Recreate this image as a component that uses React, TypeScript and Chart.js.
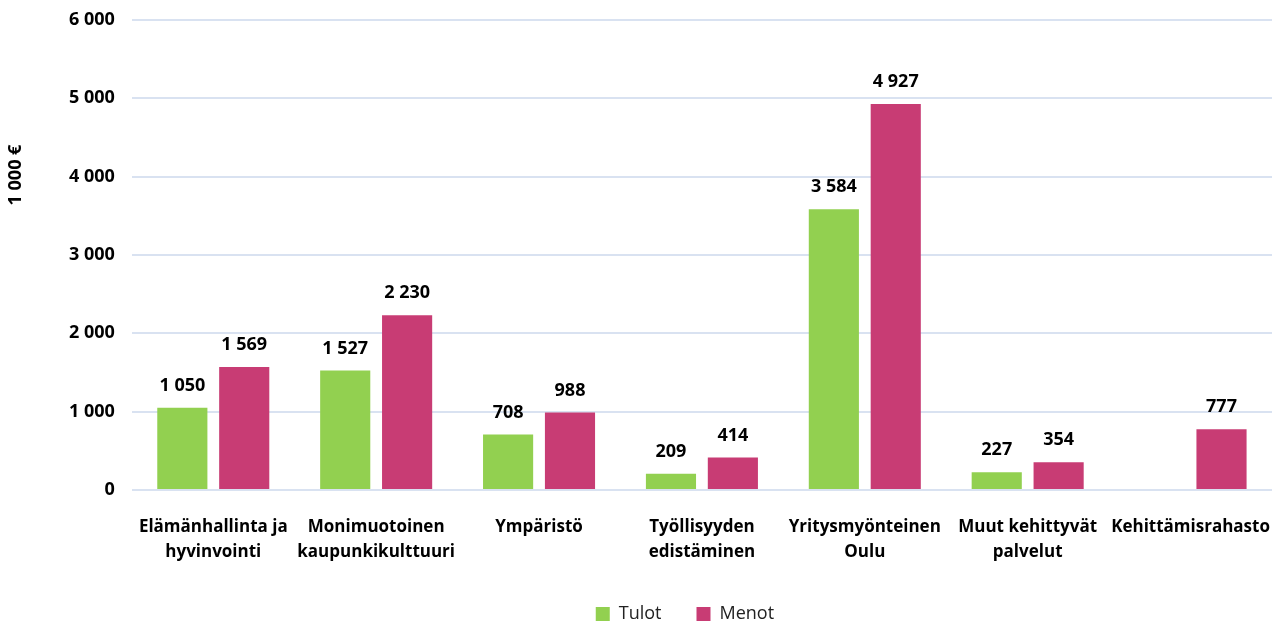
import React, { useEffect, useRef } from "react";
import { Chart, registerables } from "chart.js";

Chart.register(...registerables);

const categories: (string | string[])[] = [
  ["Elämänhallinta ja", "hyvinvointi"],
  ["Monimuotoinen", "kaupunkikulttuuri"],
  "Ympäristö",
  ["Työllisyyden", "edistäminen"],
  ["Yritysmyönteinen", "Oulu"],
  ["Muut kehittyvät", "palvelut"],
  "Kehittämisrahasto",
];
const tulot: (number | null)[] = [1050, 1527, 708, 209, 3584, 227, null];
const menot: number[] = [1569, 2230, 988, 414, 4927, 354, 777];
const yTitle = "1 000 €";

const FONT = "'Open Sans', 'Noto Sans', sans-serif";
const fmt = (v: number) => String(v).replace(/\B(?=(\d{3})+(?!\d))/g, " ");

const labelPlugin = {
  id: "valueLabels",
  afterDatasetsDraw(chart: any) {
    const ctx = chart.ctx;
    ctx.save();
    ctx.font = `bold 18px ${FONT}`;
    ctx.fillStyle = "#000";
    ctx.textAlign = "center";
    ctx.textBaseline = "middle";
    chart.data.datasets.forEach((ds: any, i: number) => {
      const meta = chart.getDatasetMeta(i);
      meta.data.forEach((el: any, j: number) => {
        const v = ds.data[j];
        if (v == null) return;
        ctx.fillText(fmt(v), el.x, el.y - 22);
      });
    });
    ctx.restore();
  },
};

const titlePlugin = {
  id: "yTitle",
  afterDraw(chart: any) {
    const ctx = chart.ctx;
    ctx.save();
    ctx.font = `bold 18px ${FONT}`;
    ctx.fillStyle = "#000";
    ctx.textAlign = "center";
    ctx.textBaseline = "middle";
    ctx.translate(16, 175);
    ctx.rotate(-Math.PI / 2);
    ctx.fillText(yTitle, 0, 0);
    ctx.restore();
  },
};

const legendShift = {
  id: "legendShift",
  afterLayout(chart: any) {
    const lg = chart.legend;
    if (lg) {
      lg.left -= 17;
      lg.right -= 17;
    }
  },
};

export default function App() {
  const ref = useRef<HTMLCanvasElement | null>(null);
  useEffect(() => {
    if (!ref.current) return;
    const chart = new Chart(ref.current, {
      type: "bar",
      data: {
        labels: categories,
        datasets: [
          { label: "Tulot", data: tulot, backgroundColor: "#92D050", categoryPercentage: 0.76, barPercentage: 0.81 },
          { label: "Menot", data: menot, backgroundColor: "#C83C74", categoryPercentage: 0.76, barPercentage: 0.81 },
        ],
      },
      options: {
        animation: false,
        responsive: true,
        maintainAspectRatio: false,
        layout: { padding: { left: 52, right: 8, top: 20, bottom: 0 } },
        plugins: {
          legend: {
            position: "bottom",
            fullSize: false,
            maxHeight: 54,
            labels: {
              font: { family: FONT, size: 18 },
              color: "#222",
              boxWidth: 14,
              boxHeight: 14,
              padding: 35,
            },
          },
          tooltip: { enabled: false },
        },
        scales: {
          x: {
            grid: { display: false },
            border: { display: false },
            ticks: {
              font: { family: FONT, size: 17, weight: "bold", lineHeight: 1.47 },
              color: "#000",
              maxRotation: 0,
              autoSkip: false,
              padding: 17,
            },
            afterFit: (scale: any) => {
              scale.height = 80;
              scale.paddingLeft = 0;
              scale.paddingRight = 0;
            },
          },
          y: {
            min: 0,
            max: 6000,
            ticks: {
              stepSize: 1000,
              font: { family: FONT, size: 18, weight: "bold" },
              color: "#000",
              padding: 17,
              callback: (v: any) => fmt(Number(v)),
            },
            grid: { color: "#D9E2F1", lineWidth: 2, drawTicks: false },
            border: { display: false },
            afterFit: (scale: any) => {
              scale.paddingTop = 0;
              scale.paddingBottom = 0;
            },
          },
        },
      },
      plugins: [labelPlugin, titlePlugin, legendShift],
    });
    return () => chart.destroy();
  }, []);
  return (
    <div style={{ position: "absolute", left: 0, top: 0, width: 1280, height: 624 }}>
      <canvas ref={ref} />
    </div>
  );
}
